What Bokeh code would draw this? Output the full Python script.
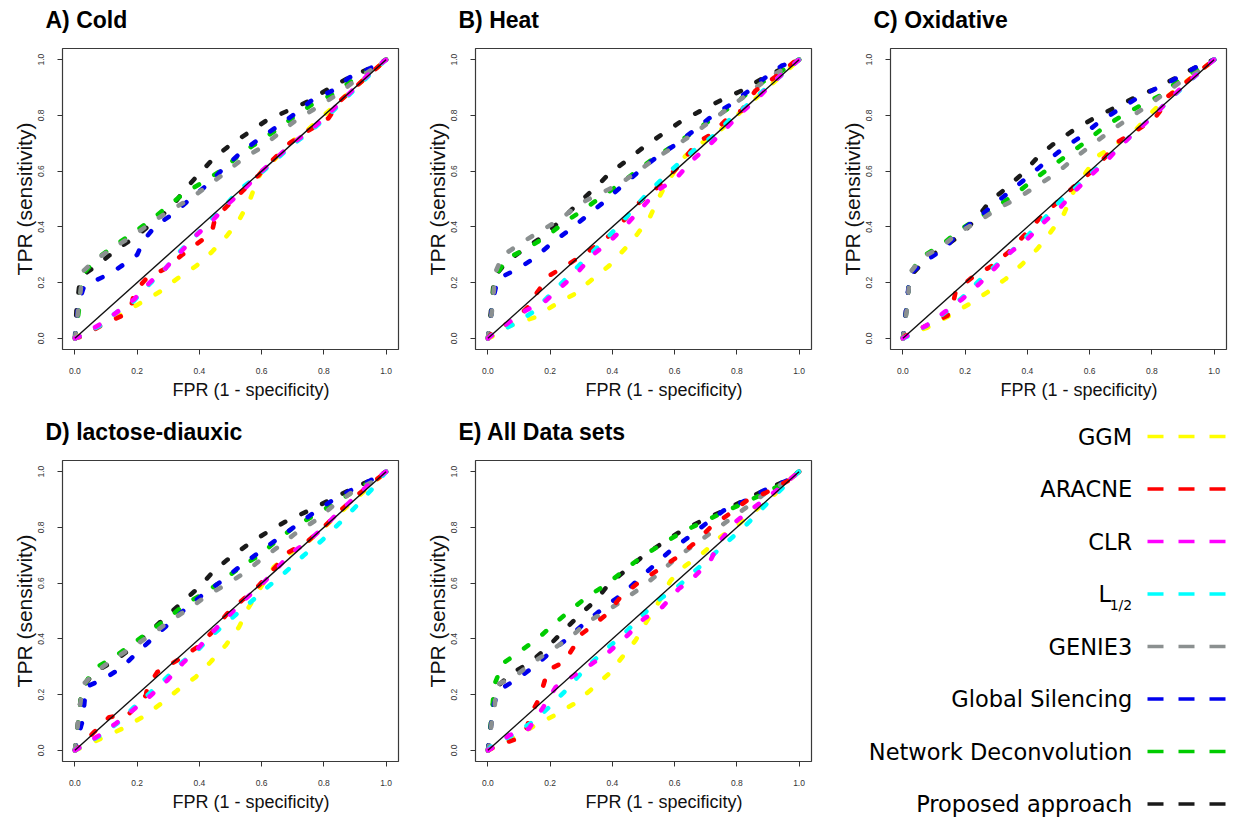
from bokeh.plotting import figure
from bokeh.models import Range1d, FixedTicker, PrintfTickFormatter, Title
from bokeh.layouts import row, column
from bokeh.embed import file_html
from bokeh.resources import INLINE
from bokeh.core.properties import value

METHODS = ["GGM", "ARACNE", "CLR", "L1/2", "GENIE3", "Global Silencing",
           "Network Deconvolution", "Proposed approach"]
COLORS = ["#FFFF00", "#FF0000", "#FF00FF", "#00FFFF", "#8B9090", "#0000EE",
          "#00CC00", "#1A1A1A"]
DRAW_ORDER = ["Proposed approach", "Network Deconvolution", "Global Silencing", "GENIE3",
              "GGM", "ARACNE", "L1/2", "CLR"]
TICKS = [0.0, 0.2, 0.4, 0.6, 0.8, 1.0]
DIAG = [0.0, 1.0]

# ---------------- A) Cold ----------------
cold_ggm_fpr = [0.0, 0.03, 0.08, 0.14, 0.20, 0.27, 0.33, 0.39, 0.44, 0.49, 0.53, 0.56, 0.58, 0.60, 0.64, 0.69, 0.75, 0.80, 0.86, 0.91, 0.96, 1.0]
cold_ggm_tpr = [0.0, 0.02, 0.045, 0.08, 0.12, 0.165, 0.215, 0.26, 0.31, 0.37, 0.43, 0.49, 0.55, 0.60, 0.64, 0.70, 0.75, 0.80, 0.86, 0.91, 0.96, 1.0]
cold_aracne_fpr = [0.0, 0.03, 0.09, 0.15, 0.18, 0.19, 0.23, 0.29, 0.345, 0.405, 0.44, 0.45, 0.49, 0.54, 0.59, 0.64, 0.69, 0.75, 0.815, 0.855, 0.91, 0.96, 1.0]
cold_aracne_tpr = [0.0, 0.01, 0.05, 0.08, 0.11, 0.165, 0.215, 0.25, 0.30, 0.35, 0.38, 0.43, 0.475, 0.53, 0.585, 0.645, 0.70, 0.745, 0.79, 0.855, 0.91, 0.96, 1.0]
cold_clr_fpr = [0.0, 0.02, 0.08, 0.13, 0.19, 0.24, 0.29, 0.34, 0.39, 0.44, 0.49, 0.54, 0.59, 0.645, 0.70, 0.76, 0.81, 0.86, 0.91, 0.96, 1.0]
cold_clr_tpr = [0.0, 0.01, 0.05, 0.09, 0.14, 0.20, 0.25, 0.31, 0.37, 0.42, 0.48, 0.53, 0.59, 0.645, 0.70, 0.75, 0.80, 0.855, 0.91, 0.965, 1.0]
cold_l12_fpr = [0.0, 0.02, 0.08, 0.13, 0.19, 0.24, 0.29, 0.34, 0.39, 0.44, 0.49, 0.53, 0.59, 0.645, 0.70, 0.76, 0.81, 0.86, 0.91, 0.96, 1.0]
cold_l12_tpr = [0.0, 0.01, 0.045, 0.09, 0.135, 0.195, 0.25, 0.315, 0.37, 0.43, 0.485, 0.535, 0.585, 0.64, 0.695, 0.745, 0.795, 0.85, 0.905, 0.96, 1.0]
cold_genie3_fpr = [0.0, 0.004, 0.01, 0.015, 0.025, 0.07, 0.13, 0.19, 0.245, 0.30, 0.37, 0.43, 0.49, 0.54, 0.60, 0.66, 0.72, 0.78, 0.85, 0.895, 0.955, 1.0]
cold_genie3_tpr = [0.0, 0.03, 0.10, 0.14, 0.24, 0.285, 0.33, 0.37, 0.415, 0.455, 0.50, 0.55, 0.60, 0.645, 0.685, 0.74, 0.79, 0.83, 0.88, 0.92, 0.965, 1.0]
cold_gs_fpr = [0.0, 0.005, 0.01, 0.03, 0.05, 0.11, 0.17, 0.20, 0.22, 0.26, 0.32, 0.37, 0.43, 0.48, 0.53, 0.585, 0.645, 0.70, 0.76, 0.83, 0.88, 0.95, 1.0]
cold_gs_tpr = [0.0, 0.05, 0.12, 0.19, 0.20, 0.23, 0.275, 0.30, 0.35, 0.405, 0.45, 0.50, 0.555, 0.613, 0.663, 0.71, 0.756, 0.80, 0.853, 0.89, 0.935, 0.97, 1.0]
cold_nd_fpr = [0.0, 0.005, 0.015, 0.025, 0.07, 0.13, 0.19, 0.245, 0.30, 0.35, 0.42, 0.48, 0.53, 0.59, 0.65, 0.71, 0.766, 0.837, 0.89, 0.95, 1.0]
cold_nd_tpr = [0.0, 0.04, 0.12, 0.23, 0.285, 0.335, 0.38, 0.425, 0.475, 0.52, 0.566, 0.61, 0.66, 0.705, 0.75, 0.80, 0.842, 0.88, 0.925, 0.965, 1.0]
cold_proposed_fpr = [0.0, 0.005, 0.015, 0.03, 0.08, 0.135, 0.19, 0.25, 0.31, 0.35, 0.395, 0.445, 0.50, 0.56, 0.62, 0.685, 0.755, 0.815, 0.88, 0.95, 1.0]
cold_proposed_tpr = [0.0, 0.10, 0.20, 0.23, 0.27, 0.32, 0.36, 0.415, 0.47, 0.53, 0.585, 0.645, 0.695, 0.74, 0.785, 0.817, 0.853, 0.896, 0.935, 0.97, 1.0]

# ---------------- B) Heat ----------------
heat_ggm_fpr = [0.0, 0.02, 0.07, 0.15, 0.21, 0.28, 0.33, 0.39, 0.44, 0.48, 0.52, 0.55, 0.57, 0.60, 0.635, 0.69, 0.74, 0.80, 0.86, 0.92, 0.97, 1.0]
heat_ggm_tpr = [0.0, 0.01, 0.045, 0.075, 0.117, 0.16, 0.207, 0.261, 0.321, 0.374, 0.434, 0.506, 0.548, 0.60, 0.655, 0.703, 0.74, 0.80, 0.86, 0.92, 0.97, 1.0]
heat_aracne_fpr = [0.0, 0.02, 0.07, 0.095, 0.15, 0.155, 0.197, 0.26, 0.285, 0.35, 0.41, 0.475, 0.545, 0.605, 0.66, 0.672, 0.72, 0.78, 0.815, 0.86, 0.92, 0.99, 1.0]
heat_aracne_tpr = [0.0, 0.028, 0.057, 0.075, 0.135, 0.16, 0.225, 0.267, 0.285, 0.333, 0.386, 0.476, 0.542, 0.608, 0.685, 0.703, 0.733, 0.80, 0.817, 0.889, 0.935, 0.997, 1.0]
heat_clr_fpr = [0.0, 0.06, 0.12, 0.186, 0.24, 0.293, 0.341, 0.394, 0.442, 0.496, 0.544, 0.603, 0.656, 0.709, 0.763, 0.816, 0.87, 0.923, 1.0]
heat_clr_tpr = [0.0, 0.051, 0.099, 0.135, 0.189, 0.243, 0.303, 0.35, 0.404, 0.47, 0.53, 0.572, 0.638, 0.691, 0.751, 0.811, 0.865, 0.925, 1.0]
heat_l12_fpr = [0.0, 0.01, 0.084, 0.143, 0.202, 0.25, 0.303, 0.357, 0.405, 0.453, 0.506, 0.56, 0.613, 0.667, 0.725, 0.779, 0.838, 0.891, 0.955, 1.0]
heat_l12_tpr = [0.0, 0.01, 0.051, 0.093, 0.159, 0.213, 0.273, 0.333, 0.386, 0.446, 0.512, 0.572, 0.628, 0.679, 0.727, 0.787, 0.841, 0.895, 0.955, 1.0]
heat_genie3_fpr = [0.0, 0.004, 0.012, 0.016, 0.024, 0.047, 0.111, 0.17, 0.234, 0.293, 0.362, 0.426, 0.485, 0.544, 0.603, 0.667, 0.72, 0.779, 0.832, 0.891, 0.95, 1.0]
heat_genie3_tpr = [0.0, 0.04, 0.09, 0.135, 0.237, 0.297, 0.345, 0.386, 0.428, 0.482, 0.52, 0.556, 0.602, 0.65, 0.691, 0.739, 0.783, 0.831, 0.874, 0.925, 0.967, 1.0]
heat_gs_fpr = [0.0, 0.008, 0.015, 0.031, 0.095, 0.154, 0.207, 0.266, 0.325, 0.378, 0.432, 0.485, 0.544, 0.603, 0.661, 0.715, 0.774, 0.832, 0.886, 0.944, 1.0]
heat_gs_tpr = [0.0, 0.06, 0.13, 0.213, 0.249, 0.291, 0.344, 0.392, 0.446, 0.494, 0.548, 0.599, 0.652, 0.695, 0.745, 0.793, 0.835, 0.883, 0.931, 0.978, 1.0]
heat_nd_fpr = [0.0, 0.005, 0.012, 0.022, 0.06, 0.132, 0.191, 0.245, 0.303, 0.362, 0.42, 0.48, 0.538, 0.603, 0.66, 0.72, 0.78, 0.832, 0.89, 0.955, 1.0]
heat_nd_tpr = [0.0, 0.04, 0.10, 0.22, 0.285, 0.327, 0.368, 0.416, 0.458, 0.506, 0.55, 0.602, 0.65, 0.697, 0.74, 0.787, 0.83, 0.877, 0.925, 0.967, 1.0]
heat_proposed_fpr = [0.0, 0.005, 0.012, 0.02, 0.063, 0.127, 0.186, 0.239, 0.293, 0.341, 0.389, 0.448, 0.506, 0.565, 0.624, 0.688, 0.752, 0.816, 0.88, 0.944, 1.0]
heat_proposed_tpr = [0.0, 0.05, 0.12, 0.22, 0.279, 0.327, 0.374, 0.428, 0.488, 0.536, 0.59, 0.64, 0.691, 0.736, 0.781, 0.819, 0.856, 0.889, 0.931, 0.967, 1.0]

# ---------------- C) Oxidative ----------------
ox_ggm_fpr = [0.0, 0.01, 0.079, 0.149, 0.213, 0.271, 0.33, 0.384, 0.432, 0.474, 0.517, 0.55, 0.592, 0.629, 0.69, 0.75, 0.80, 0.848, 0.90, 0.95, 1.0]
ox_ggm_tpr = [0.0, 0.01, 0.039, 0.081, 0.123, 0.165, 0.213, 0.267, 0.321, 0.38, 0.446, 0.53, 0.602, 0.656, 0.70, 0.75, 0.811, 0.865, 0.913, 0.955, 1.0]
ox_aracne_fpr = [0.0, 0.01, 0.074, 0.143, 0.16, 0.17, 0.223, 0.287, 0.34, 0.39, 0.437, 0.49, 0.545, 0.603, 0.65, 0.688, 0.75, 0.811, 0.83, 0.848, 0.90, 0.95, 1.0]
ox_aracne_tpr = [0.0, 0.01, 0.045, 0.081, 0.12, 0.171, 0.219, 0.261, 0.31, 0.37, 0.428, 0.482, 0.54, 0.596, 0.65, 0.703, 0.745, 0.793, 0.82, 0.865, 0.91, 0.955, 1.0]
ox_clr_fpr = [0.0, 0.015, 0.074, 0.132, 0.191, 0.245, 0.298, 0.346, 0.40, 0.453, 0.506, 0.549, 0.603, 0.656, 0.699, 0.752, 0.806, 0.854, 0.907, 0.96, 1.0]
ox_clr_tpr = [0.0, 0.01, 0.045, 0.093, 0.141, 0.195, 0.255, 0.309, 0.356, 0.416, 0.47, 0.524, 0.584, 0.638, 0.691, 0.745, 0.799, 0.853, 0.913, 0.96, 1.0]
ox_l12_fpr = [0.0, 0.02, 0.084, 0.143, 0.197, 0.245, 0.298, 0.351, 0.40, 0.448, 0.496, 0.549, 0.603, 0.656, 0.704, 0.757, 0.811, 0.859, 0.912, 0.966, 1.0]
ox_l12_tpr = [0.0, 0.01, 0.051, 0.099, 0.153, 0.207, 0.261, 0.315, 0.368, 0.422, 0.482, 0.536, 0.59, 0.644, 0.697, 0.751, 0.805, 0.859, 0.913, 0.967, 1.0]
ox_genie3_fpr = [0.0, 0.004, 0.012, 0.016, 0.022, 0.063, 0.122, 0.18, 0.245, 0.303, 0.373, 0.432, 0.49, 0.549, 0.603, 0.661, 0.715, 0.779, 0.832, 0.891, 0.955, 1.0]
ox_genie3_tpr = [0.0, 0.03, 0.10, 0.14, 0.235, 0.291, 0.327, 0.38, 0.422, 0.464, 0.506, 0.548, 0.59, 0.644, 0.691, 0.739, 0.781, 0.829, 0.871, 0.919, 0.96, 1.0]
ox_gs_fpr = [0.0, 0.005, 0.012, 0.022, 0.074, 0.132, 0.186, 0.24, 0.293, 0.341, 0.40, 0.458, 0.512, 0.576, 0.629, 0.688, 0.75, 0.816, 0.88, 0.95, 1.0]
ox_gs_tpr = [0.0, 0.04, 0.12, 0.23, 0.279, 0.321, 0.386, 0.43, 0.482, 0.524, 0.578, 0.632, 0.679, 0.727, 0.775, 0.817, 0.86, 0.898, 0.934, 0.978, 1.0]
ox_nd_fpr = [0.0, 0.005, 0.012, 0.022, 0.058, 0.122, 0.18, 0.239, 0.298, 0.362, 0.416, 0.474, 0.533, 0.592, 0.645, 0.704, 0.763, 0.827, 0.886, 0.95, 1.0]
ox_nd_tpr = [0.0, 0.04, 0.11, 0.23, 0.291, 0.333, 0.386, 0.43, 0.47, 0.518, 0.566, 0.614, 0.661, 0.709, 0.757, 0.799, 0.835, 0.871, 0.925, 0.967, 1.0]
ox_proposed_fpr = [0.0, 0.005, 0.012, 0.022, 0.074, 0.132, 0.19, 0.239, 0.277, 0.335, 0.389, 0.437, 0.49, 0.554, 0.619, 0.683, 0.747, 0.811, 0.88, 0.95, 1.0]
ox_proposed_tpr = [0.0, 0.05, 0.12, 0.22, 0.285, 0.327, 0.375, 0.434, 0.488, 0.542, 0.596, 0.655, 0.703, 0.751, 0.793, 0.829, 0.865, 0.895, 0.937, 0.978, 1.0]

# ---------------- D) lactose-diauxic ----------------
lac_ggm_fpr = [0.0, 0.013, 0.083, 0.153, 0.217, 0.276, 0.329, 0.388, 0.436, 0.484, 0.527, 0.559, 0.60, 0.639, 0.687, 0.75, 0.80, 0.855, 0.91, 0.96, 1.0]
lac_ggm_tpr = [0.0, 0.006, 0.042, 0.078, 0.119, 0.167, 0.215, 0.263, 0.317, 0.376, 0.442, 0.514, 0.59, 0.657, 0.705, 0.75, 0.80, 0.855, 0.91, 0.96, 1.0]
lac_aracne_fpr = [0.0, 0.009, 0.062, 0.11, 0.174, 0.228, 0.233, 0.265, 0.329, 0.393, 0.441, 0.489, 0.537, 0.591, 0.639, 0.687, 0.751, 0.804, 0.853, 0.906, 0.959, 1.0]
lac_aracne_tpr = [0.0, 0.006, 0.066, 0.119, 0.131, 0.197, 0.227, 0.281, 0.323, 0.37, 0.424, 0.49, 0.538, 0.591, 0.651, 0.711, 0.753, 0.806, 0.86, 0.914, 0.962, 1.0]
lac_clr_fpr = [0.0, 0.009, 0.078, 0.131, 0.185, 0.244, 0.297, 0.345, 0.399, 0.447, 0.495, 0.543, 0.596, 0.644, 0.692, 0.746, 0.799, 0.853, 0.906, 0.959, 1.0]
lac_clr_tpr = [0.0, 0.006, 0.054, 0.096, 0.143, 0.197, 0.251, 0.311, 0.37, 0.43, 0.484, 0.538, 0.591, 0.645, 0.705, 0.747, 0.80, 0.86, 0.914, 0.968, 1.0]
lac_l12_fpr = [0.0, 0.019, 0.083, 0.142, 0.19, 0.244, 0.297, 0.345, 0.393, 0.441, 0.495, 0.553, 0.612, 0.676, 0.735, 0.794, 0.853, 0.911, 0.965, 1.0]
lac_l12_tpr = [0.0, 0.012, 0.054, 0.102, 0.155, 0.209, 0.263, 0.317, 0.358, 0.412, 0.466, 0.52, 0.579, 0.639, 0.699, 0.753, 0.818, 0.884, 0.95, 1.0]
lac_genie3_fpr = [0.0, 0.003, 0.01, 0.014, 0.025, 0.073, 0.126, 0.185, 0.249, 0.308, 0.366, 0.425, 0.489, 0.548, 0.607, 0.66, 0.714, 0.772, 0.831, 0.89, 0.954, 1.0]
lac_genie3_tpr = [0.0, 0.03, 0.10, 0.14, 0.235, 0.287, 0.329, 0.37, 0.418, 0.466, 0.508, 0.556, 0.597, 0.639, 0.693, 0.735, 0.783, 0.824, 0.878, 0.926, 0.962, 1.0]
lac_gs_fpr = [0.0, 0.01, 0.025, 0.035, 0.094, 0.153, 0.201, 0.254, 0.308, 0.361, 0.415, 0.473, 0.527, 0.585, 0.644, 0.703, 0.762, 0.826, 0.885, 0.949, 1.0]
lac_gs_tpr = [0.0, 0.05, 0.108, 0.227, 0.257, 0.299, 0.352, 0.406, 0.46, 0.514, 0.562, 0.609, 0.657, 0.705, 0.753, 0.80, 0.848, 0.896, 0.932, 0.968, 1.0]
lac_nd_fpr = [0.0, 0.005, 0.012, 0.022, 0.062, 0.126, 0.185, 0.244, 0.30, 0.356, 0.42, 0.473, 0.532, 0.591, 0.65, 0.703, 0.767, 0.831, 0.89, 0.95, 1.0]
lac_nd_tpr = [0.0, 0.04, 0.11, 0.22, 0.293, 0.335, 0.382, 0.43, 0.475, 0.526, 0.567, 0.609, 0.657, 0.699, 0.753, 0.80, 0.842, 0.884, 0.925, 0.965, 1.0]
lac_proposed_fpr = [0.0, 0.005, 0.012, 0.022, 0.062, 0.131, 0.185, 0.238, 0.292, 0.345, 0.399, 0.447, 0.50, 0.559, 0.618, 0.682, 0.751, 0.815, 0.879, 0.949, 1.0]
lac_proposed_tpr = [0.0, 0.05, 0.12, 0.22, 0.281, 0.323, 0.37, 0.424, 0.478, 0.532, 0.585, 0.645, 0.693, 0.741, 0.783, 0.824, 0.86, 0.896, 0.932, 0.968, 1.0]

# ---------------- E) All Data sets ----------------
all_ggm_fpr = [0.0, 0.01, 0.068, 0.143, 0.213, 0.277, 0.335, 0.389, 0.432, 0.474, 0.512, 0.549, 0.587, 0.635, 0.688, 0.747, 0.80, 0.859, 0.912, 0.966, 1.0]
all_ggm_tpr = [0.0, 0.006, 0.036, 0.084, 0.125, 0.167, 0.221, 0.275, 0.335, 0.394, 0.466, 0.532, 0.609, 0.663, 0.705, 0.765, 0.806, 0.86, 0.908, 0.968, 1.0]
all_aracne_fpr = [0.0, 0.01, 0.031, 0.095, 0.127, 0.132, 0.159, 0.17, 0.186, 0.191, 0.245, 0.282, 0.287, 0.33, 0.384, 0.426, 0.485, 0.544, 0.608, 0.661, 0.715, 0.768, 0.832, 0.896, 0.966, 1.0]
all_aracne_tpr = [0.0, 0.006, 0.018, 0.042, 0.084, 0.119, 0.173, 0.203, 0.263, 0.287, 0.317, 0.382, 0.406, 0.442, 0.49, 0.55, 0.603, 0.645, 0.693, 0.741, 0.80, 0.842, 0.896, 0.926, 0.968, 1.0]
all_clr_fpr = [0.0, 0.01, 0.068, 0.132, 0.175, 0.218, 0.277, 0.335, 0.394, 0.448, 0.501, 0.56, 0.613, 0.667, 0.715, 0.747, 0.80, 0.848, 0.907, 0.966, 1.0]
all_clr_tpr = [0.0, 0.006, 0.054, 0.078, 0.15, 0.227, 0.269, 0.311, 0.358, 0.412, 0.472, 0.514, 0.579, 0.627, 0.681, 0.753, 0.824, 0.866, 0.914, 0.968, 1.0]
all_l12_fpr = [0.0, 0.015, 0.079, 0.143, 0.197, 0.245, 0.293, 0.341, 0.394, 0.448, 0.501, 0.554, 0.608, 0.661, 0.715, 0.768, 0.822, 0.87, 0.918, 0.966, 1.009]
all_l12_tpr = [0.0, 0.018, 0.054, 0.102, 0.155, 0.209, 0.269, 0.323, 0.376, 0.43, 0.49, 0.544, 0.585, 0.639, 0.693, 0.747, 0.80, 0.854, 0.91, 0.962, 1.012]
all_genie3_fpr = [0.0, 0.004, 0.012, 0.02, 0.028, 0.084, 0.138, 0.202, 0.266, 0.319, 0.384, 0.442, 0.501, 0.554, 0.608, 0.667, 0.72, 0.779, 0.838, 0.896, 0.966, 1.0]
all_genie3_tpr = [0.0, 0.02, 0.10, 0.14, 0.235, 0.263, 0.311, 0.358, 0.406, 0.46, 0.502, 0.544, 0.591, 0.639, 0.693, 0.741, 0.783, 0.83, 0.878, 0.926, 0.968, 1.0]
all_gs_fpr = [0.0, 0.006, 0.013, 0.018, 0.034, 0.095, 0.154, 0.207, 0.261, 0.314, 0.368, 0.426, 0.48, 0.533, 0.587, 0.645, 0.699, 0.757, 0.827, 0.886, 0.96, 1.0]
all_gs_tpr = [0.0, 0.05, 0.119, 0.16, 0.215, 0.257, 0.305, 0.358, 0.406, 0.46, 0.508, 0.556, 0.609, 0.663, 0.717, 0.765, 0.812, 0.86, 0.896, 0.932, 0.968, 1.0]
all_nd_fpr = [0.0, 0.004, 0.013, 0.02, 0.047, 0.106, 0.159, 0.213, 0.271, 0.325, 0.384, 0.442, 0.501, 0.56, 0.624, 0.688, 0.757, 0.827, 0.896, 0.966, 1.0]
all_nd_tpr = [0.0, 0.03, 0.131, 0.233, 0.311, 0.358, 0.40, 0.454, 0.508, 0.556, 0.597, 0.651, 0.699, 0.741, 0.783, 0.818, 0.854, 0.89, 0.926, 0.968, 1.0]
all_proposed_fpr = [0.0, 0.005, 0.012, 0.022, 0.074, 0.138, 0.191, 0.239, 0.293, 0.346, 0.389, 0.442, 0.501, 0.565, 0.624, 0.688, 0.757, 0.822, 0.886, 0.96, 1.0]
all_proposed_tpr = [0.0, 0.05, 0.12, 0.22, 0.275, 0.317, 0.37, 0.424, 0.484, 0.538, 0.597, 0.645, 0.699, 0.747, 0.789, 0.824, 0.86, 0.896, 0.932, 0.968, 1.0]

PANELS = [
    ("A) Cold", {
        "GGM": (cold_ggm_fpr, cold_ggm_tpr), "ARACNE": (cold_aracne_fpr, cold_aracne_tpr),
        "CLR": (cold_clr_fpr, cold_clr_tpr), "L1/2": (cold_l12_fpr, cold_l12_tpr),
        "GENIE3": (cold_genie3_fpr, cold_genie3_tpr), "Global Silencing": (cold_gs_fpr, cold_gs_tpr),
        "Network Deconvolution": (cold_nd_fpr, cold_nd_tpr),
        "Proposed approach": (cold_proposed_fpr, cold_proposed_tpr)}),
    ("B) Heat", {
        "GGM": (heat_ggm_fpr, heat_ggm_tpr), "ARACNE": (heat_aracne_fpr, heat_aracne_tpr),
        "CLR": (heat_clr_fpr, heat_clr_tpr), "L1/2": (heat_l12_fpr, heat_l12_tpr),
        "GENIE3": (heat_genie3_fpr, heat_genie3_tpr), "Global Silencing": (heat_gs_fpr, heat_gs_tpr),
        "Network Deconvolution": (heat_nd_fpr, heat_nd_tpr),
        "Proposed approach": (heat_proposed_fpr, heat_proposed_tpr)}),
    ("C) Oxidative", {
        "GGM": (ox_ggm_fpr, ox_ggm_tpr), "ARACNE": (ox_aracne_fpr, ox_aracne_tpr),
        "CLR": (ox_clr_fpr, ox_clr_tpr), "L1/2": (ox_l12_fpr, ox_l12_tpr),
        "GENIE3": (ox_genie3_fpr, ox_genie3_tpr), "Global Silencing": (ox_gs_fpr, ox_gs_tpr),
        "Network Deconvolution": (ox_nd_fpr, ox_nd_tpr),
        "Proposed approach": (ox_proposed_fpr, ox_proposed_tpr)}),
    ("D) lactose-diauxic", {
        "GGM": (lac_ggm_fpr, lac_ggm_tpr), "ARACNE": (lac_aracne_fpr, lac_aracne_tpr),
        "CLR": (lac_clr_fpr, lac_clr_tpr), "L1/2": (lac_l12_fpr, lac_l12_tpr),
        "GENIE3": (lac_genie3_fpr, lac_genie3_tpr), "Global Silencing": (lac_gs_fpr, lac_gs_tpr),
        "Network Deconvolution": (lac_nd_fpr, lac_nd_tpr),
        "Proposed approach": (lac_proposed_fpr, lac_proposed_tpr)}),
    ("E) All Data sets", {
        "GGM": (all_ggm_fpr, all_ggm_tpr), "ARACNE": (all_aracne_fpr, all_aracne_tpr),
        "CLR": (all_clr_fpr, all_clr_tpr), "L1/2": (all_l12_fpr, all_l12_tpr),
        "GENIE3": (all_genie3_fpr, all_genie3_tpr), "Global Silencing": (all_gs_fpr, all_gs_tpr),
        "Network Deconvolution": (all_nd_fpr, all_nd_tpr),
        "Proposed approach": (all_proposed_fpr, all_proposed_tpr)}),
]

FONT = "Liberation Sans"
COLOR_OF = dict(zip(METHODS, COLORS))


def make_panel(title, curves, rb, bb):
    p = figure(frame_width=336, frame_height=301,
               min_border_left=62, min_border_right=rb, min_border_top=48, min_border_bottom=bb,
               x_range=Range1d(-0.04, 1.04), y_range=Range1d(-0.04, 1.04),
               output_backend="svg", toolbar_location=None)
    p.grid.visible = False
    p.background_fill_color = "white"
    p.border_fill_color = "white"
    p.outline_line_color = "#3a3a3a"
    p.outline_line_width = 1.2
    p.outline_line_alpha = 1.0
    for ax in (p.xaxis[0], p.yaxis[0]):
        ax.ticker = FixedTicker(ticks=TICKS)
        ax.formatter = PrintfTickFormatter(format="%.1f")
        ax.axis_line_color = None
        ax.major_tick_line_color = "#333333"
        ax.major_tick_line_width = 1
        ax.major_tick_out = 5
        ax.major_tick_in = 0
        ax.minor_tick_line_color = None
        ax.major_label_text_font = FONT
        ax.major_label_text_font_size = "8.5px"
        ax.major_label_text_color = "#333333"
    p.xaxis.major_label_standoff = 13
    p.yaxis.major_label_orientation = "vertical"
    p.yaxis.major_label_standoff = 13
    p.yaxis.axis_label = "TPR (sensitivity)"
    p.yaxis.axis_label_text_font = FONT
    p.yaxis.axis_label_text_font_size = "21px"
    p.yaxis.axis_label_text_font_style = "normal"
    p.yaxis.axis_label_text_color = "#111111"
    p.yaxis.axis_label_standoff = 0

    p.add_layout(Title(text="FPR (1 - specificity)", align="left", offset=110,
                       text_font=FONT, text_font_size="18px", text_font_style="normal",
                       text_color="#111111", standoff=2), "below")
    # blank spacer between frame and panel title (lifts the title up)
    p.add_layout(Title(text=" ", text_font=FONT, text_font_size="8px", standoff=5), "above")
    p.add_layout(Title(text=title, align="left", offset=-17,
                       text_font=FONT, text_font_size="23px", text_font_style="bold",
                       text_color="#000000", standoff=0), "above")

    for m in DRAW_ORDER:
        fpr, tpr = curves[m]
        p.line(fpr, tpr, line_color=COLOR_OF[m], line_width=4.6, line_dash="5 18",
               line_cap="round", line_join="round")
    p.line(DIAG, DIAG, line_color="#111111", line_width=1.4)
    return p


pA = make_panel(PANELS[0][0], PANELS[0][1], 15, 63)
pB = make_panel(PANELS[1][0], PANELS[1][1], 17, 63)
pC = make_panel(PANELS[2][0], PANELS[2][1], 8, 63)
pD = make_panel(PANELS[3][0], PANELS[3][1], 15, 57)
pE = make_panel(PANELS[4][0], PANELS[4][1], 17, 57)

# ---------------- legend panel ----------------
N = len(METHODS)
LEG_W, LEG_H = 406, 406
ROW_STEP = 52.5
FIRST_ROW = 24.0
leg = figure(width=LEG_W, height=LEG_H, x_range=Range1d(0, LEG_W),
             y_range=Range1d((LEG_H - FIRST_ROW) / ROW_STEP, -FIRST_ROW / ROW_STEP),
             x_axis_type=None, y_axis_type=None, min_border=0,
             output_backend="svg", toolbar_location=None)
leg.grid.visible = False
leg.outline_line_color = None
rows = list(range(N))
plain = [i for i in rows if METHODS[i] != "L1/2"]
l_row = METHODS.index("L1/2")
leg.text(x=[303.7] * len(plain), y=plain, text=[METHODS[i] for i in plain],
         text_font=value("DejaVu Sans"), text_font_size="22.5px", text_color="#000000",
         text_align="right", text_baseline="middle")
leg.text(x=[282.5], y=[l_row], text=["L"], text_font=value("DejaVu Sans"),
         text_font_size="22.5px", text_color="#000000", text_align="right", text_baseline="middle")
leg.text(x=[303.7], y=[l_row + 0.2], text=["1/2"], text_font=value("DejaVu Sans"),
         text_font_size="14px", text_color="#000000", text_align="right", text_baseline="middle")
leg.segment(x0=[319] * N, y0=rows, x1=[398] * N, y1=rows, line_color=COLORS,
            line_width=3.4, line_dash="16 15", line_cap="butt")

layout = column(row(pA, pB, pC), row(pD, pE, column(leg)))
open("out.html", "w").write(file_html(layout, INLINE))
